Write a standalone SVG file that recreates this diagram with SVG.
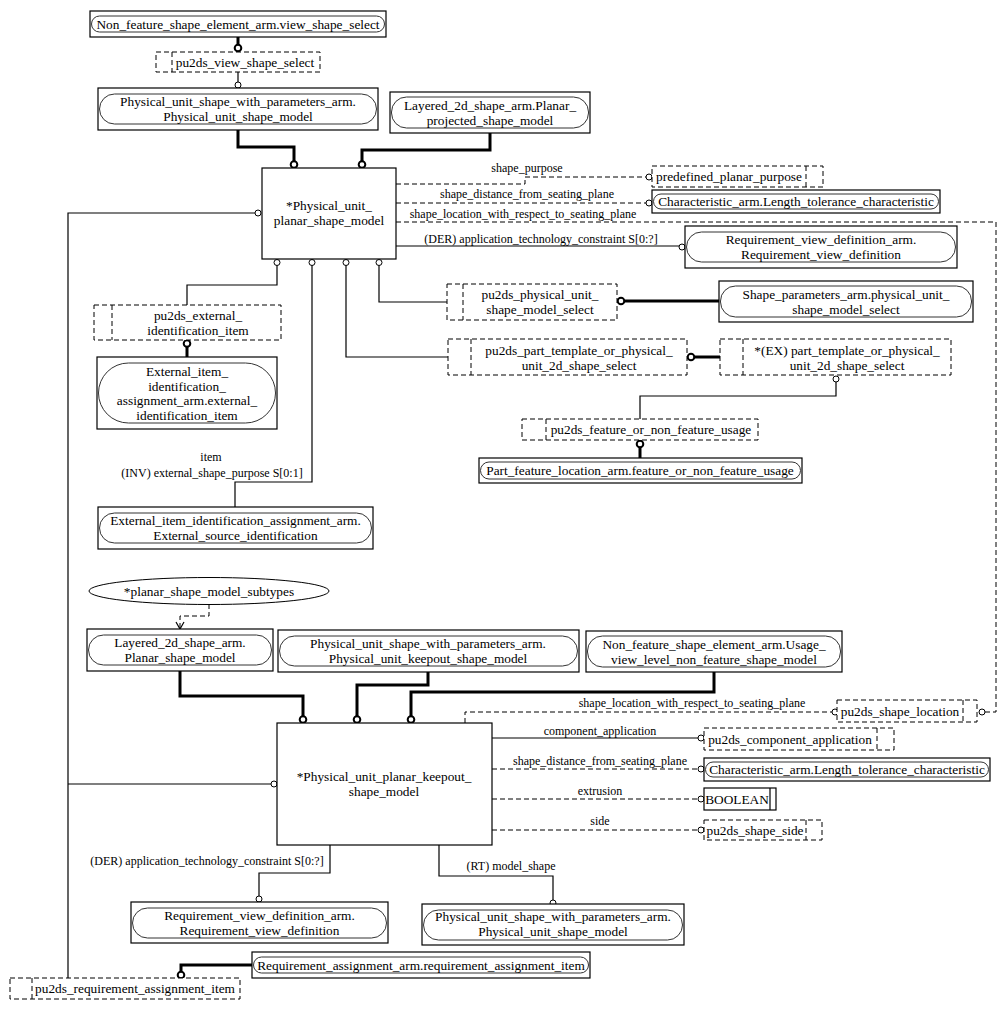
<svg xmlns="http://www.w3.org/2000/svg" width="1006" height="1009" viewBox="0 0 1006 1009">
<style>
text{font-family:"Liberation Serif","Times New Roman",serif;font-size:13.33px;fill:#000;text-anchor:middle}
text.lb{font-size:12px}
text.st{text-anchor:start}
.box{fill:#fff;stroke:#000;stroke-width:1.2}
.rr{fill:none;stroke:#333;stroke-width:1}
.dbox{fill:#fff;stroke:#000;stroke-width:1;stroke-dasharray:5,3}
.dl{fill:none;stroke:#000;stroke-width:1;stroke-dasharray:5,3}
.ln{fill:none;stroke:#000;stroke-width:1.2}
.tk{fill:none;stroke:#000;stroke-width:3}
.c{fill:#fff;stroke:#000;stroke-width:1}
.ct{fill:#fff;stroke:#000;stroke-width:2}
</style>
<rect width="1006" height="1009" fill="#fff"/>
<g id="connectors">
<path class="tk" d="M238,37V45"/><circle class="ct" cx="238" cy="48" r="3.3"/>
<path class="ln" d="M238,72V82"/><circle class="c" cx="238" cy="85" r="3"/>
<path class="tk" d="M238,130V147H294V161"/><circle class="ct" cx="294" cy="164.5" r="3.3"/>
<path class="tk" d="M490,133V150H362V161"/><circle class="ct" cx="362" cy="164.5" r="3.3"/>
<path class="dl" d="M396,184H525V177H646"/><circle class="c" cx="649" cy="177" r="3"/>
<text class="lb" x="527" y="172">shape_purpose</text>
<path class="dl" d="M396,203H646"/><circle class="c" cx="649" cy="203" r="3"/>
<text class="lb" x="527" y="198">shape_distance_from_seating_plane</text>
<path class="dl" d="M396,222H996V712H985"/><circle class="c" cx="982" cy="712" r="3"/>
<text class="lb" x="523" y="218">shape_location_with_respect_to_seating_plane</text>
<path class="ln" d="M396,246H679"/><circle class="c" cx="682" cy="247" r="3"/>
<text class="lb" x="541" y="243">(DER) application_technology_constraint S[0:?]</text>
<circle class="c" cx="277" cy="262.5" r="3"/><path class="ln" d="M277,265.5V285H187V305"/>
<circle class="ct" cx="187" cy="343.5" r="3.3"/><path class="tk" d="M187,347V357"/>
<circle class="c" cx="312" cy="262.5" r="3"/><path class="ln" d="M312,265.5V482H235V507"/>
<text class="lb" x="211" y="461">item</text>
<text class="lb" x="212" y="477">(INV) external_shape_purpose S[0:1]</text>
<circle class="c" cx="346" cy="262.5" r="3"/><path class="ln" d="M346,265.5V357H448"/>
<circle class="c" cx="379" cy="262.5" r="3"/><path class="ln" d="M379,265.5V302H447"/>
<circle class="ct" cx="621" cy="301" r="3.3"/><path class="tk" d="M624.5,301H719"/>
<circle class="ct" cx="691" cy="357" r="3.3"/><path class="tk" d="M694.5,357H720"/>
<circle class="c" cx="836" cy="379" r="3"/><path class="ln" d="M836,382V396H640V419"/>
<circle class="ct" cx="640" cy="444" r="3.3"/><path class="tk" d="M640,447.5V458"/>
<path class="dl" d="M209,604V616H180V628"/><path class="ln" d="M176,622L180,629L184,622"/>
<path class="tk" d="M180,671V696H303V716"/><circle class="ct" cx="303" cy="719.5" r="3.3"/>
<path class="tk" d="M428,672V685H357V716"/><circle class="ct" cx="357" cy="719.5" r="3.3"/>
<path class="tk" d="M714,672V692H411V716"/><circle class="ct" cx="411" cy="719.5" r="3.3"/>
<path class="dl" d="M465,723V712H832"/><circle class="c" cx="835" cy="712" r="3"/>
<text class="lb" x="692" y="707">shape_location_with_respect_to_seating_plane</text>
<path class="ln" d="M492,738H698"/><circle class="c" cx="701" cy="738" r="3"/>
<text class="lb" x="600" y="735">component_application</text>
<path class="dl" d="M492,769H698"/><circle class="c" cx="701" cy="769" r="3"/>
<text class="lb" x="600" y="765">shape_distance_from_seating_plane</text>
<path class="dl" d="M492,799H698"/><circle class="c" cx="701" cy="799" r="3"/>
<text class="lb" x="600" y="795">extrusion</text>
<path class="dl" d="M492,830H698"/><circle class="c" cx="701" cy="830" r="3"/>
<text class="lb" x="600" y="825">side</text>
<path class="ln" d="M330,845V873H259V896"/><circle class="c" cx="259" cy="899" r="3"/>
<text class="lb" x="207" y="865">(DER) application_technology_constraint S[0:?]</text>
<path class="ln" d="M439,845V876H553V900"/><circle class="c" cx="553" cy="903" r="3"/>
<text class="lb" x="511" y="870">(RT) model_shape</text>
<path class="ln" d="M68,978V213H255"/><circle class="c" cx="258" cy="213" r="3"/>
<path class="ln" d="M68,784H271"/><circle class="c" cx="274" cy="784" r="3"/>
<path class="tk" d="M252,965H181V971.5"/><circle class="ct" cx="181" cy="975" r="3.3"/>
</g>
<g id="n_view_shape_select"><rect class="box" x="90" y="11" width="296" height="26"/><rect class="rr" x="91.5" y="16" width="293" height="16" rx="8"/><text x="238" y="28.5">Non_feature_shape_element_arm.view_shape_select</text></g>
<g id="s_pu2ds_view_shape_select"><rect class="dbox" x="156" y="52" width="164" height="20"/><path class="dl" d="M172,52V72"/><text x="245" y="66.5">pu2ds_view_shape_select</text></g>
<g id="n_pusm_top"><rect class="box" x="98" y="88" width="280" height="42"/><rect class="rr" x="99.5" y="94" width="277" height="30" rx="15"/><text x="238" y="106">Physical_unit_shape_with_parameters_arm.</text><text x="238" y="121">Physical_unit_shape_model</text></g>
<g id="n_layered_planar_projected"><rect class="box" x="390" y="92" width="200" height="41"/><rect class="rr" x="391.5" y="97" width="197" height="31" rx="15"/><text x="490" y="109.5">Layered_2d_shape_arm.Planar_</text><text x="490" y="124.5">projected_shape_model</text></g>
<g id="n_main"><rect class="box" x="262" y="168" width="134" height="91"/><text x="329" y="210">*Physical_unit_</text><text x="329" y="225">planar_shape_model</text></g>
<g id="s_predefined_planar_purpose"><rect class="dbox" x="652" y="166" width="171" height="21"/><path class="dl" d="M806,166V187"/><text x="729" y="181">predefined_planar_purpose</text></g>
<g id="n_length_tol_1"><rect class="box" x="652" y="190" width="288" height="23"/><rect class="rr" x="653.5" y="194" width="285" height="15" rx="7.5"/><text x="796" y="206">Characteristic_arm.Length_tolerance_characteristic</text></g>
<g id="n_reqview_1"><rect class="box" x="685" y="226" width="272" height="42"/><rect class="rr" x="686.5" y="232" width="269" height="30" rx="15"/><text x="821" y="244">Requirement_view_definition_arm.</text><text x="821" y="259">Requirement_view_definition</text></g>
<g id="s_external_identification_item"><rect class="dbox" x="94" y="305" width="187" height="35"/><path class="dl" d="M112,305V340"/><text x="198" y="319.5">pu2ds_external_</text><text x="198" y="334.5">identification_item</text></g>
<g id="n_external_item"><rect class="box" x="97" y="357" width="180" height="72"/><rect class="rr" x="98.5" y="363" width="177" height="60" rx="30"/><text x="187" y="376">External_item_</text><text x="187" y="390.5">identification_</text><text x="187" y="405">assignment_arm.external_</text><text x="187" y="419.5">identification_item</text></g>
<g id="n_external_source"><rect class="box" x="98" y="507" width="275" height="42"/><rect class="rr" x="99.5" y="513" width="272" height="30" rx="15"/><text x="235.5" y="524.5">External_item_identification_assignment_arm.</text><text x="235.5" y="540">External_source_identification</text></g>
<g id="s_pusm_select"><rect class="dbox" x="447" y="284" width="170" height="36"/><path class="dl" d="M463,284V320"/><text x="540" y="299">pu2ds_physical_unit_</text><text x="540" y="314">shape_model_select</text></g>
<g id="n_shape_params"><rect class="box" x="719" y="281" width="254" height="41"/><rect class="rr" x="720.5" y="286" width="251" height="31" rx="15"/><text x="846" y="298.5">Shape_parameters_arm.physical_unit_</text><text x="846" y="313.5">shape_model_select</text></g>
<g id="s_pt_select"><rect class="dbox" x="448" y="339" width="239" height="36"/><path class="dl" d="M471,339V375"/><text x="579" y="354.5">pu2ds_part_template_or_physical_</text><text x="579" y="369.5">unit_2d_shape_select</text></g>
<g id="s_ex_select"><rect class="dbox" x="720" y="339" width="231" height="36"/><path class="dl" d="M743,339V375"/><text x="847" y="354.5">*(EX) part_template_or_physical_</text><text x="847" y="369.5">unit_2d_shape_select</text></g>
<g id="s_fnf_usage"><rect class="dbox" x="522" y="419" width="236" height="21"/><path class="dl" d="M546,419V440"/><text x="651" y="434">pu2ds_feature_or_non_feature_usage</text></g>
<g id="n_pfl"><rect class="box" x="479" y="458" width="323" height="25"/><rect class="rr" x="480.5" y="462" width="320" height="17" rx="8.5"/><text x="640" y="475">Part_feature_location_arm.feature_or_non_feature_usage</text></g>
<g id="e_subtypes"><ellipse class="rr" cx="209" cy="591" rx="120" ry="13.5" style="stroke:#000;fill:#fff"/><text x="209" y="595.5">*planar_shape_model_subtypes</text></g>
<g id="n_layered_planar"><rect class="box" x="87" y="629" width="186" height="42"/><rect class="rr" x="88.5" y="635" width="183" height="30" rx="15"/><text x="180" y="647">Layered_2d_shape_arm.</text><text x="180" y="662">Planar_shape_model</text></g>
<g id="n_pu_keepout"><rect class="box" x="278" y="630" width="301" height="42"/><rect class="rr" x="279.5" y="636" width="298" height="30" rx="15"/><text x="428" y="648">Physical_unit_shape_with_parameters_arm.</text><text x="428" y="663">Physical_unit_keepout_shape_model</text></g>
<g id="n_nfs_usage"><rect class="box" x="586" y="631" width="256" height="41"/><rect class="rr" x="587.5" y="636" width="253" height="31" rx="15"/><text x="714" y="648.5">Non_feature_shape_element_arm.Usage_</text><text x="714" y="663.5">view_level_non_feature_shape_model</text></g>
<g id="n_keepout"><rect class="box" x="277" y="723" width="215" height="122"/><text x="384" y="781">*Physical_unit_planar_keepout_</text><text x="384" y="796">shape_model</text></g>
<g id="s_shape_location"><rect class="dbox" x="837" y="700" width="140" height="22"/><path class="dl" d="M963,700V722"/><text x="900" y="715.5">pu2ds_shape_location</text></g>
<g id="s_component_application"><rect class="dbox" x="704" y="728" width="190" height="22"/><path class="dl" d="M877,728V750"/><text x="790" y="743.5">pu2ds_component_application</text></g>
<g id="n_length_tol_2"><rect class="box" x="704" y="758" width="286" height="23"/><rect class="rr" x="705.5" y="762" width="283" height="15" rx="7.5"/><text x="847" y="774">Characteristic_arm.Length_tolerance_characteristic</text></g>
<g id="n_boolean"><rect class="box" x="704" y="788" width="72" height="22"/><path class="ln" d="M770,788V810"/><text x="737" y="803.5">BOOLEAN</text></g>
<g id="s_shape_side"><rect class="dbox" x="704" y="820" width="118" height="20"/><path class="dl" d="M806,820V840"/><text x="755" y="834.5">pu2ds_shape_side</text></g>
<g id="n_reqview_2"><rect class="box" x="131" y="902" width="257" height="41"/><rect class="rr" x="132.5" y="908" width="254" height="30" rx="15"/><text x="259.5" y="919.5">Requirement_view_definition_arm.</text><text x="259.5" y="934.5">Requirement_view_definition</text></g>
<g id="n_pusm_bottom"><rect class="box" x="422" y="904" width="262" height="41"/><rect class="rr" x="423.5" y="910" width="259" height="30" rx="15"/><text x="553" y="921">Physical_unit_shape_with_parameters_arm.</text><text x="553" y="936">Physical_unit_shape_model</text></g>
<g id="n_req_assign"><rect class="box" x="252" y="952" width="338" height="26"/><rect class="rr" x="253.5" y="957" width="335" height="16" rx="8"/><text x="421" y="969.5">Requirement_assignment_arm.requirement_assignment_item</text></g>
<g id="s_req_assign_item"><rect class="dbox" x="10" y="978" width="230" height="21"/><path class="dl" d="M32,978V999"/><text x="135" y="993">pu2ds_requirement_assignment_item</text></g>
</svg>
